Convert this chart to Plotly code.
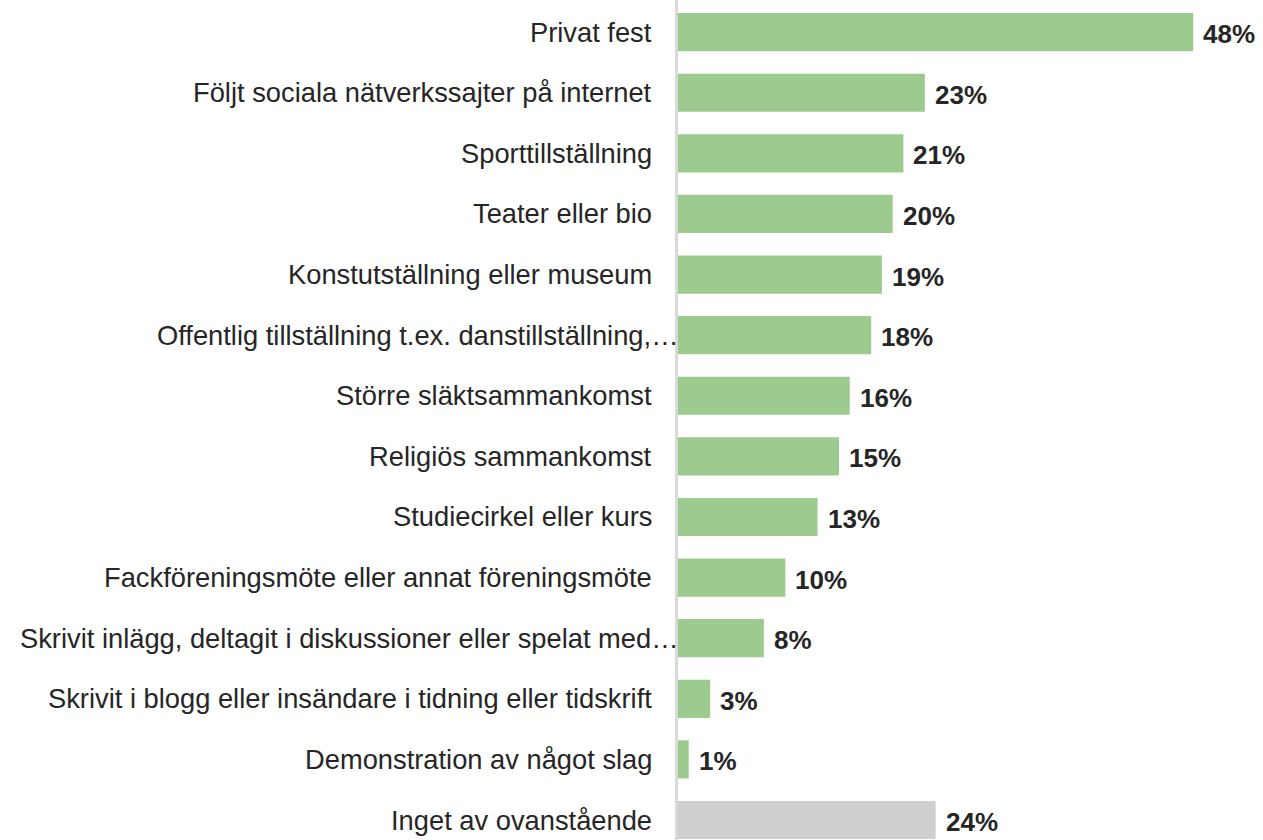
import plotly.graph_objects as go

# Activities, listed top to bottom
categories = [
    "Privat fest",
    "Följt sociala nätverkssajter på internet",
    "Sporttillställning",
    "Teater eller bio",
    "Konstutställning eller museum",
    "Offentlig tillställning t.ex. danstillställning,…",
    "Större släktsammankomst",
    "Religiös sammankomst",
    "Studiecirkel eller kurs",
    "Fackföreningsmöte eller annat föreningsmöte",
    "Skrivit inlägg, deltagit i diskussioner eller spelat med…",
    "Skrivit i blogg eller insändare i tidning eller tidskrift",
    "Demonstration av något slag",
    "Inget av ovanstående",
]
values = [48, 23, 21, 20, 19, 18, 16, 15, 13, 10, 8, 3, 1, 24]

GREEN = "#9dcb8f"
GREY = "#d0cfd0"
TEXT = "#262626"
FONT = "Arial, Liberation Sans, sans-serif"

colors = [GREY if c == "Inget av ovanstående" else GREEN for c in categories]

fig = go.Figure(
    go.Bar(
        x=values,
        y=categories,
        orientation="h",
        marker=dict(color=colors, line=dict(width=0)),
        width=0.63,
        hoverinfo="skip",
    )
)

# Category labels at the left of the axis; the shortened ones run up to the axis line
for cat in categories:
    truncated = cat.endswith("…")
    fig.add_annotation(
        x=0, y=cat, xref="x", yref="y",
        text=cat, showarrow=False,
        xanchor="right", yanchor="middle",
        xshift=2 if truncated else -24,
        font=dict(family=FONT, size=27.3, color=TEXT),
    )

# Value labels just right of each bar
for cat, v in zip(categories, values):
    fig.add_annotation(
        x=v, y=cat, xref="x", yref="y",
        text=f"<b>{v}%</b>", showarrow=False,
        xanchor="left", yanchor="middle",
        xshift=8, yshift=-2,
        font=dict(family=FONT, size=26, color=TEXT),
    )

fig.update_layout(
    width=1263,
    height=840,
    margin=dict(l=678, r=0, t=0, b=0),
    paper_bgcolor="white",
    plot_bgcolor="white",
    showlegend=False,
    xaxis=dict(
        range=[0, 54.5],
        visible=False,
        showgrid=False,
        zeroline=False,
        fixedrange=True,
    ),
    yaxis=dict(
        categoryorder="array",
        categoryarray=categories,
        range=[13.33, -0.53],
        showticklabels=False,
        ticks="",
        showgrid=False,
        zeroline=False,
        showline=True,
        linecolor="#d9d9d9",
        linewidth=3,
        fixedrange=True,
    ),
)

fig.write_html("out.html")
